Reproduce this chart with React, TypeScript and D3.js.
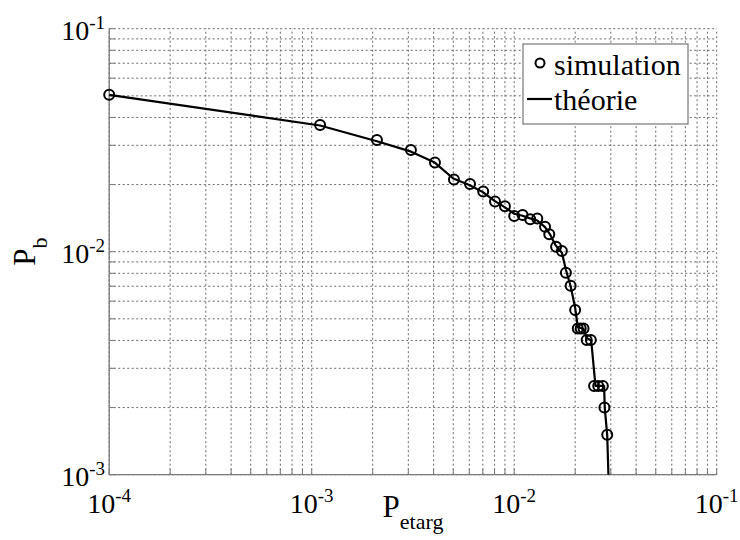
import React from "react";
import * as d3 from "d3";

const xTickExps = [-4, -3, -2, -1];
const yTickExps = [-3, -2, -1];

const simX = [1e-4, 1.1e-3, 2.1e-3, 3.09e-3, 4.06e-3, 5.04e-3, 6.05e-3, 7.03e-3, 8.04e-3, 9.0e-3, 1.0e-2, 1.1e-2, 1.2e-2, 1.3e-2, 1.42e-2, 1.49e-2, 1.61e-2, 1.72e-2, 1.8e-2, 1.9e-2, 2.0e-2, 2.06e-2, 2.13e-2, 2.2e-2, 2.28e-2, 2.39e-2, 2.48e-2, 2.6e-2, 2.74e-2, 2.79e-2, 2.88e-2];
const simY = [0.0505, 0.037, 0.0317, 0.0286, 0.0251, 0.0211, 0.0201, 0.0186, 0.0168, 0.016, 0.01445, 0.0146, 0.01397, 0.0141, 0.01294, 0.01197, 0.01052, 0.01007, 0.00805, 0.00704, 0.00548, 0.00453, 0.00453, 0.00453, 0.00402, 0.00402, 0.0025, 0.0025, 0.0025, 0.002, 0.00151];

const theoX = [1e-4, 1.1e-3, 2.1e-3, 3.1e-3, 4.05e-3, 5e-3, 6e-3, 7e-3, 8e-3, 9e-3, 1e-2, 1.1e-2, 1.2e-2, 1.3e-2, 1.42e-2, 1.5e-2, 1.6e-2, 1.72e-2, 1.8e-2, 1.9e-2, 2.0e-2, 2.06e-2, 2.2e-2, 2.28e-2, 2.4e-2, 2.52e-2, 2.78e-2, 2.8e-2, 2.88e-2, 2.92e-2];
const theoY = [0.0505, 0.0368, 0.0313, 0.0281, 0.0251, 0.0213, 0.0199, 0.0185, 0.0169, 0.0158, 0.0148, 0.0145, 0.0141, 0.0138, 0.0129, 0.0120, 0.0107, 0.0099, 0.0083, 0.0070, 0.0056, 0.0046, 0.0045, 0.0041, 0.0040, 0.0025, 0.0025, 0.0020, 0.0015, 0.0010];

const legendLabels = ["simulation", "théorie"];

const FONT = "'Liberation Serif', 'Times New Roman', serif";

export default function App() {
  const x = d3.scaleLog().domain([1e-4, 1e-1]).range([109.2, 716.7]);
  const y = d3.scaleLog().domain([1e-3, 1e-1]).range([474.7, 28.7]);

  const gridVals = (lo: number, hi: number) => {
    const out: number[] = [];
    for (let e = lo; e < hi; e++) {
      for (let m = 1; m <= 9; m++) out.push(m * Math.pow(10, e));
    }
    out.push(Math.pow(10, hi));
    return out;
  };
  const xGrid = gridVals(-4, -1);
  const yGrid = gridVals(-3, -1);

  const line = d3
    .line<number>()
    .x((_, i) => x(theoX[i]))
    .y((_, i) => y(theoY[i]));

  const [x0, x1] = x.range();
  const [y0, y1] = y.range();
  const gridColor = "#6a6a6a";
  const axisColor = "#7a7a7a";

  return (
    <svg width={740} height={540} style={{ position: "absolute", left: 0, top: 0, background: "#fff" }} fontFamily={FONT}>
      <rect x={0} y={0} width={740} height={540} fill="#fff" />
      {/* grid */}
      {xGrid.map((v, i) => (
        <line key={"gx" + i} x1={x(v)} x2={x(v)} y1={y0} y2={y1} stroke={gridColor} strokeWidth={1} strokeDasharray="2,2.5" />
      ))}
      {yGrid.map((v, i) => (
        <line key={"gy" + i} x1={x0} x2={x1} y1={y(v)} y2={y(v)} stroke={gridColor} strokeWidth={1} strokeDasharray="2,2.5" />
      ))}
      {/* ticks */}
      {xGrid.map((v, i) => (
        <line key={"tx" + i} x1={x(v)} x2={x(v)} y1={y0} y2={y0 - 6} stroke={axisColor} strokeWidth={1} />
      ))}
      {yGrid.map((v, i) => (
        <line key={"ty" + i} x1={x0} x2={x0 + 6} y1={y(v)} y2={y(v)} stroke={axisColor} strokeWidth={1} />
      ))}
      {/* axes */}
      <line x1={x0} x2={x0} y1={y0} y2={y1} stroke={axisColor} strokeWidth={1.3} />
      <line x1={x0} x2={x1} y1={y0} y2={y0} stroke={axisColor} strokeWidth={1.3} />
      {/* tick labels */}
      {xTickExps.map((e) => (
        <text key={"xl" + e} x={x(Math.pow(10, e))} y={513} textAnchor="middle" fontSize={28} fill="#000">
          10<tspan dy={-11} fontSize={19}>{"-" + Math.abs(e)}</tspan>
        </text>
      ))}
      {yTickExps.map((e) => (
        <text key={"yl" + e} x={105} y={y(Math.pow(10, e)) + 11} textAnchor="end" fontSize={28} fill="#000">
          10<tspan dy={-11} fontSize={19}>{"-" + Math.abs(e)}</tspan>
        </text>
      ))}
      {/* axis titles */}
      <text x={413} y={517} textAnchor="middle" fontSize={31} fill="#000">
        P<tspan dy={12} fontSize={22}>etarg</tspan>
      </text>
      <text transform={`translate(35,${(y0 + y1) / 2}) rotate(-90)`} textAnchor="middle" fontSize={31} fill="#000">
        P<tspan dy={12} fontSize={22}>b</tspan>
      </text>
      {/* data */}
      <path d={line(theoX) || ""} fill="none" stroke="#000" strokeWidth={2.2} strokeLinejoin="round" />
      {simX.map((v, i) => (
        <circle key={"c" + i} cx={x(v)} cy={y(simY[i])} r={5} fill="none" stroke="#000" strokeWidth={2} />
      ))}
      {/* legend */}
      <rect x={523} y={44} width={165} height={80} fill="#fff" stroke="#777" strokeWidth={1.2} />
      <circle cx={540} cy={63} r={4.5} fill="none" stroke="#000" strokeWidth={2} />
      <text x={554} y={75} fontSize={30} fill="#000">{legendLabels[0]}</text>
      <line x1={527} x2={552} y1={99} y2={99} stroke="#000" strokeWidth={2.2} />
      <text x={554} y={110} fontSize={30} fill="#000">{legendLabels[1]}</text>
    </svg>
  );
}
